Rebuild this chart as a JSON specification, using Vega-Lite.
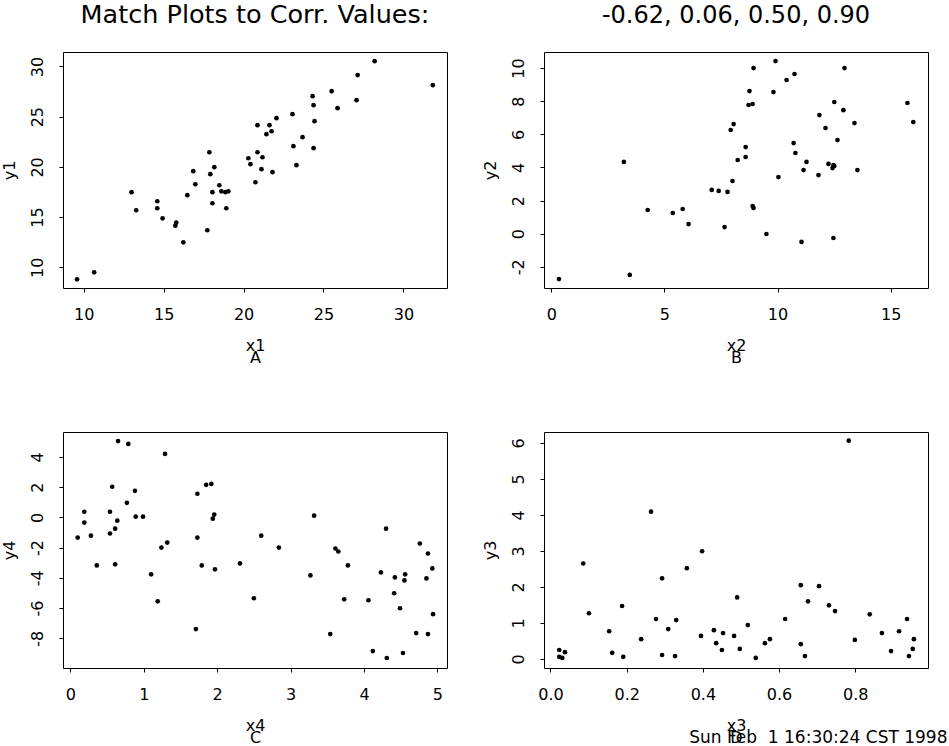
{
  "$schema": "https://vega.github.io/schema/vega-lite/v6.json",
  "padding": {"left": 0, "top": 2, "right": 0, "bottom": 0},
  "background": "white",
  "datasets": {
    "a": [
      {"x": 9.58, "y": 8.80}, {"x": 10.65, "y": 9.50}, {"x": 12.99, "y": 17.48}, {"x": 13.28, "y": 15.68},
      {"x": 14.60, "y": 16.58}, {"x": 14.60, "y": 15.88}, {"x": 14.93, "y": 14.88}, {"x": 15.73, "y": 14.15},
      {"x": 15.79, "y": 14.45}, {"x": 16.23, "y": 12.49}, {"x": 16.48, "y": 17.18}, {"x": 16.85, "y": 19.57},
      {"x": 16.98, "y": 18.27}, {"x": 17.73, "y": 13.69}, {"x": 17.86, "y": 21.46}, {"x": 17.92, "y": 19.27},
      {"x": 18.05, "y": 17.48}, {"x": 18.05, "y": 16.38}, {"x": 18.17, "y": 19.97}, {"x": 18.48, "y": 18.17},
      {"x": 18.61, "y": 17.57}, {"x": 18.86, "y": 17.48}, {"x": 18.92, "y": 15.88}, {"x": 19.05, "y": 17.57},
      {"x": 20.30, "y": 20.86}, {"x": 20.43, "y": 20.27}, {"x": 20.74, "y": 18.47}, {"x": 20.87, "y": 24.15},
      {"x": 20.87, "y": 21.46}, {"x": 21.12, "y": 19.77}, {"x": 21.18, "y": 20.96}, {"x": 21.43, "y": 23.26},
      {"x": 21.62, "y": 24.15}, {"x": 21.75, "y": 23.55}, {"x": 21.81, "y": 19.47}, {"x": 22.06, "y": 24.85},
      {"x": 23.06, "y": 25.25}, {"x": 23.12, "y": 22.06}, {"x": 23.31, "y": 20.17}, {"x": 23.69, "y": 22.96},
      {"x": 24.32, "y": 27.04}, {"x": 24.38, "y": 26.15}, {"x": 24.38, "y": 21.86}, {"x": 24.44, "y": 24.55},
      {"x": 25.51, "y": 27.54}, {"x": 25.88, "y": 25.85}, {"x": 27.07, "y": 26.64}, {"x": 27.14, "y": 29.14},
      {"x": 28.20, "y": 30.53}, {"x": 31.84, "y": 28.14}
    ],
    "b": [
      {"x": 0.34, "y": -2.74}, {"x": 3.21, "y": 4.33}, {"x": 3.47, "y": -2.49}, {"x": 4.26, "y": 1.43},
      {"x": 5.37, "y": 1.25}, {"x": 5.81, "y": 1.49}, {"x": 6.07, "y": 0.58}, {"x": 7.09, "y": 2.64},
      {"x": 7.40, "y": 2.58}, {"x": 7.66, "y": 0.40}, {"x": 7.79, "y": 2.52}, {"x": 7.93, "y": 6.26},
      {"x": 8.01, "y": 3.18}, {"x": 8.06, "y": 6.62}, {"x": 8.24, "y": 4.45}, {"x": 8.59, "y": 4.63},
      {"x": 8.59, "y": 5.23}, {"x": 8.72, "y": 7.77}, {"x": 8.76, "y": 8.61}, {"x": 8.90, "y": 7.83},
      {"x": 8.90, "y": 1.67}, {"x": 8.94, "y": 1.55}, {"x": 8.94, "y": 10.0}, {"x": 9.51, "y": -0.02},
      {"x": 9.82, "y": 8.55}, {"x": 9.91, "y": 10.42}, {"x": 10.04, "y": 3.42}, {"x": 10.40, "y": 9.28},
      {"x": 10.71, "y": 5.47}, {"x": 10.75, "y": 9.64}, {"x": 10.79, "y": 4.87}, {"x": 11.06, "y": -0.50},
      {"x": 11.15, "y": 3.84}, {"x": 11.28, "y": 4.33}, {"x": 11.81, "y": 3.54}, {"x": 11.85, "y": 7.16},
      {"x": 12.12, "y": 6.38}, {"x": 12.25, "y": 4.21}, {"x": 12.43, "y": 3.96}, {"x": 12.47, "y": 4.14},
      {"x": 12.51, "y": 7.95}, {"x": 12.47, "y": -0.26}, {"x": 12.51, "y": 4.08}, {"x": 12.65, "y": 5.65},
      {"x": 12.91, "y": 7.46}, {"x": 12.96, "y": 10.0}, {"x": 13.40, "y": 6.68}, {"x": 13.53, "y": 3.84},
      {"x": 15.74, "y": 7.89}, {"x": 16.00, "y": 6.74}
    ],
    "c": [
      {"x": 0.10, "y": -1.34}, {"x": 0.19, "y": 0.37}, {"x": 0.19, "y": -0.35}, {"x": 0.28, "y": -1.21},
      {"x": 0.36, "y": -3.18}, {"x": 0.54, "y": 0.37}, {"x": 0.54, "y": -1.07}, {"x": 0.57, "y": 2.02},
      {"x": 0.61, "y": -0.75}, {"x": 0.61, "y": -3.11}, {"x": 0.64, "y": -0.22}, {"x": 0.65, "y": 5.04},
      {"x": 0.77, "y": 0.96}, {"x": 0.79, "y": 4.85}, {"x": 0.88, "y": 1.75}, {"x": 0.89, "y": 0.04},
      {"x": 0.99, "y": 0.04}, {"x": 1.10, "y": -3.77}, {"x": 1.19, "y": -5.55}, {"x": 1.24, "y": -2.00},
      {"x": 1.29, "y": 4.19}, {"x": 1.32, "y": -1.67}, {"x": 1.71, "y": -7.39}, {"x": 1.73, "y": 1.56},
      {"x": 1.73, "y": -1.34}, {"x": 1.79, "y": -3.18}, {"x": 1.85, "y": 2.15}, {"x": 1.92, "y": 2.21},
      {"x": 1.94, "y": -0.09}, {"x": 1.96, "y": 0.18}, {"x": 1.97, "y": -3.44}, {"x": 2.31, "y": -3.05},
      {"x": 2.50, "y": -5.35}, {"x": 2.60, "y": -1.21}, {"x": 2.84, "y": -2.00}, {"x": 3.27, "y": -3.84},
      {"x": 3.32, "y": 0.11}, {"x": 3.54, "y": -7.72}, {"x": 3.61, "y": -2.06}, {"x": 3.65, "y": -2.26},
      {"x": 3.73, "y": -5.42}, {"x": 3.78, "y": -3.18}, {"x": 4.06, "y": -5.48}, {"x": 4.12, "y": -8.84},
      {"x": 4.23, "y": -3.64}, {"x": 4.30, "y": -0.75}, {"x": 4.31, "y": -9.30}, {"x": 4.41, "y": -5.02},
      {"x": 4.42, "y": -3.97}, {"x": 4.49, "y": -6.01}, {"x": 4.53, "y": -8.97}, {"x": 4.55, "y": -4.17},
      {"x": 4.56, "y": -3.77}, {"x": 4.71, "y": -7.65}, {"x": 4.76, "y": -1.73}, {"x": 4.85, "y": -4.04},
      {"x": 4.87, "y": -2.39}, {"x": 4.87, "y": -7.72}, {"x": 4.93, "y": -3.38}, {"x": 4.94, "y": -6.40}
    ],
    "d": [
      {"x": 0.023, "y": 0.25}, {"x": 0.023, "y": 0.06}, {"x": 0.031, "y": 0.03}, {"x": 0.038, "y": 0.19},
      {"x": 0.086, "y": 2.65}, {"x": 0.101, "y": 1.27}, {"x": 0.154, "y": 0.77}, {"x": 0.162, "y": 0.17},
      {"x": 0.188, "y": 1.47}, {"x": 0.191, "y": 0.06}, {"x": 0.238, "y": 0.55}, {"x": 0.264, "y": 4.09},
      {"x": 0.277, "y": 1.11}, {"x": 0.293, "y": 2.24}, {"x": 0.293, "y": 0.11}, {"x": 0.309, "y": 0.83},
      {"x": 0.327, "y": 0.08}, {"x": 0.330, "y": 1.08}, {"x": 0.358, "y": 2.52}, {"x": 0.395, "y": 0.64},
      {"x": 0.398, "y": 2.99}, {"x": 0.429, "y": 0.80}, {"x": 0.435, "y": 0.44}, {"x": 0.450, "y": 0.25},
      {"x": 0.453, "y": 0.72}, {"x": 0.482, "y": 0.64}, {"x": 0.490, "y": 1.71}, {"x": 0.497, "y": 0.28},
      {"x": 0.518, "y": 0.94}, {"x": 0.539, "y": 0.03}, {"x": 0.563, "y": 0.44}, {"x": 0.576, "y": 0.55},
      {"x": 0.616, "y": 1.11}, {"x": 0.657, "y": 2.05}, {"x": 0.657, "y": 0.41}, {"x": 0.668, "y": 0.08},
      {"x": 0.676, "y": 1.60}, {"x": 0.705, "y": 2.02}, {"x": 0.731, "y": 1.49}, {"x": 0.747, "y": 1.33},
      {"x": 0.783, "y": 6.06}, {"x": 0.799, "y": 0.53}, {"x": 0.838, "y": 1.24}, {"x": 0.870, "y": 0.72},
      {"x": 0.894, "y": 0.22}, {"x": 0.915, "y": 0.77}, {"x": 0.936, "y": 1.11}, {"x": 0.941, "y": 0.08},
      {"x": 0.951, "y": 0.28}, {"x": 0.954, "y": 0.55}
    ]
  },
  "title": {
    "text": "Sun Feb\u00a0 1 16:30:24 CST 1998",
    "orient": "bottom",
    "anchor": "end",
    "frame": "bounds",
    "fontSize": 17,
    "baseline": "alphabetic",
    "offset": -3,
    "dx": 19
  },
  "columns": 2,
  "spacing": {"row": 144, "column": 97},
  "bounds": "flush",
  "concat": [
    {
      "width": 384, "height": 236,
      "title": {"text": "Match Plots to Corr. Values:", "fontSize": 25.5},
      "data": {"name": "a"},
      "mark": {"type": "circle", "color": "black", "opacity": 1, "size": 22},
      "encoding": {
        "x": {"field": "x", "type": "quantitative", "title": ["x1", "A"],
              "scale": {"domain": [8.7, 32.73], "nice": false, "zero": false},
              "axis": {"values": [10, 15, 20, 25, 30]}},
        "y": {"field": "y", "type": "quantitative", "title": "y1",
              "scale": {"domain": [7.94, 31.44], "nice": false, "zero": false},
              "axis": {"values": [10, 15, 20, 25, 30]}}
      }
    },
    {
      "width": 384, "height": 236,
      "title": {"text": "-0.62, 0.06, 0.50, 0.90", "fontSize": 24},
      "data": {"name": "b"},
      "mark": {"type": "circle", "color": "black", "opacity": 1, "size": 22},
      "encoding": {
        "x": {"field": "x", "type": "quantitative", "title": ["x2", "B"],
              "scale": {"domain": [-0.32, 16.65], "nice": false, "zero": false},
              "axis": {"values": [0, 5, 10, 15]}},
        "y": {"field": "y", "type": "quantitative", "title": "y2",
              "scale": {"domain": [-3.28, 10.97], "nice": false, "zero": false},
              "axis": {"values": [-2, 0, 2, 4, 6, 8, 10], "labelExpr": "'' + datum.value"}}
      }
    },
    {
      "width": 384, "height": 236,
      "data": {"name": "c"},
      "mark": {"type": "circle", "color": "black", "opacity": 1, "size": 22},
      "encoding": {
        "x": {"field": "x", "type": "quantitative", "title": ["x4", "C"],
              "scale": {"domain": [-0.1, 5.13], "nice": false, "zero": false},
              "axis": {"values": [0, 1, 2, 3, 4, 5]}},
        "y": {"field": "y", "type": "quantitative", "title": "y4",
              "scale": {"domain": [-9.96, 5.64], "nice": false, "zero": false},
              "axis": {"values": [-8, -6, -4, -2, 0, 2, 4], "labelExpr": "'' + datum.value"}}
      }
    },
    {
      "width": 384, "height": 236,
      "data": {"name": "d"},
      "mark": {"type": "circle", "color": "black", "opacity": 1, "size": 22},
      "encoding": {
        "x": {"field": "x", "type": "quantitative", "title": ["x3", "D"],
              "scale": {"domain": [-0.017, 0.991], "nice": false, "zero": false},
              "axis": {"values": [0, 0.2, 0.4, 0.6, 0.8], "format": ".1f"}},
        "y": {"field": "y", "type": "quantitative", "title": "y3",
              "scale": {"domain": [-0.25, 6.3], "nice": false, "zero": false},
              "axis": {"values": [0, 1, 2, 3, 4, 5, 6]}}
      }
    }
  ],
  "config": {
    "font": "DejaVu Sans",
    "view": {"stroke": "black", "strokeWidth": 1},
    "axis": {
      "grid": false, "domain": false,
      "tickColor": "black", "tickSize": 4, "tickWidth": 1,
      "labelColor": "black", "labelFontSize": 16, "labelFlush": false, "labelOverlap": false,
      "titleColor": "black", "titleFontSize": 16, "titleFontWeight": "normal"
    },
    "axisX": {"labelPadding": 14, "titlePadding": 15, "titleLineHeight": 12, "titleBaseline": "top"},
    "axisY": {"labelAngle": 270, "labelAlign": "center", "labelBaseline": "alphabetic", "labelPadding": 17,
              "titlePadding": 15, "titleBaseline": "alphabetic"},
    "title": {"fontSize": 24, "fontWeight": "normal", "color": "black", "baseline": "alphabetic", "offset": 24}
  }
}
